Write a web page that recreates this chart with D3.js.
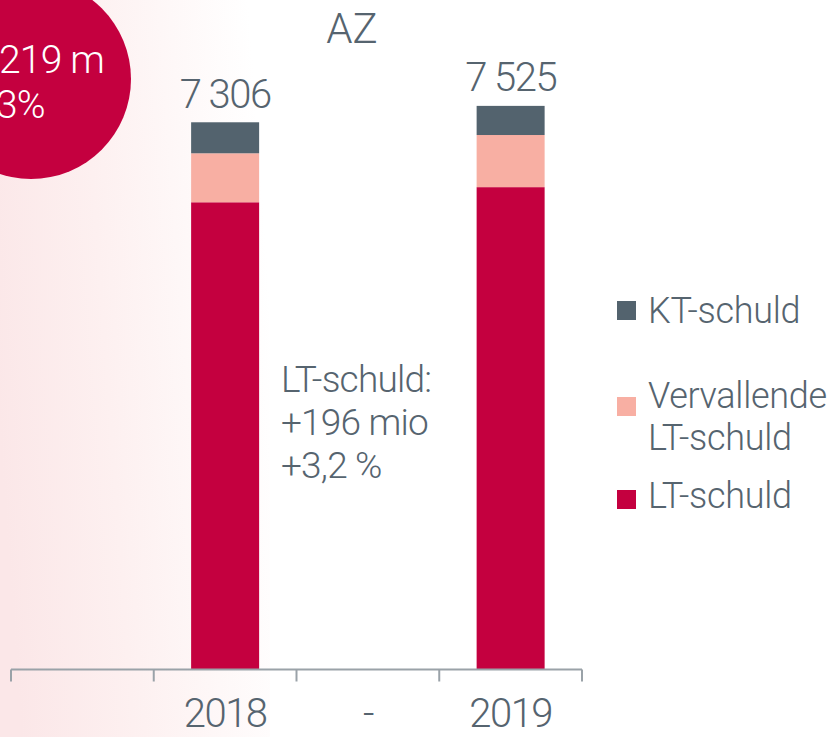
<!DOCTYPE html>
<html>
<head>
<meta charset="utf-8">
<script src="https://cdn.jsdelivr.net/npm/d3@7"></script>
<style>
  html, body { margin: 0; padding: 0; background: #fff; overflow: hidden; }
  svg { display: block; font-family: Roboto, "Open Sans", sans-serif; font-weight: 300; }
</style>
</head>
<body>
<div id="chart"></div>
<script>
// values (mio)
const categories = [" ", "2018", "-", "2019"];
const years = ["2018", "2019"];
const ltSchuld = [6238, 6440];
const vervallend = [654, 696];
const ktSchuld = [414, 389];
const totals = ["7 306", "7 525"];
const seriesKeys = ["LT", "Verv", "KT"];
const legendLabels = [["KT-schuld"], ["Vervallende", "LT-schuld"], ["LT-schuld"]];
const annotation = ["LT-schuld:", "+196 mio", "+3,2 %"];
const bubbleText = ["219 m", "3%"];

const width = 840, height = 737;
const textColor = "#56646f";

const color = d3.scaleOrdinal()
  .domain(seriesKeys)
  .range(["#c4003f", "#f8afa3", "#53636e"]);

const svg = d3.select("#chart").append("svg")
  .attr("width", width)
  .attr("height", height);

// pink wash on the left, fading out to the right
const defs = svg.append("defs");
const grad = defs.append("linearGradient")
  .attr("id", "wash")
  .attr("x1", 0).attr("y1", 0.6).attr("x2", 1).attr("y2", 0.4);
grad.append("stop").attr("offset", "0%").attr("stop-color", "#fbe7e8");
grad.append("stop").attr("offset", "40%").attr("stop-color", "#fdf0f0");
grad.append("stop").attr("offset", "100%").attr("stop-color", "#ffffff");
svg.append("rect")
  .attr("width", 270).attr("height", height)
  .attr("fill", "url(#wash)");

const x = d3.scaleBand()
  .domain(categories)
  .range([11, 582])
  .paddingInner(0);

const y = d3.scaleLinear()
  .domain([0, 8000])
  .range([669.5, 70.3]);

const barWidth = 68;

const table = years.map((yr, i) => ({ year: yr, LT: ltSchuld[i], Verv: vervallend[i], KT: ktSchuld[i] }));
const stacked = d3.stack().keys(seriesKeys)(table);

const bars = svg.append("g");
bars.selectAll("g")
  .data(stacked)
  .join("g")
  .attr("fill", d => color(d.key))
  .selectAll("rect")
  .data(d => d)
  .join("rect")
  .attr("x", d => x(d.data.year) + (x.bandwidth() - barWidth) / 2)
  .attr("width", barWidth)
  .attr("y", d => y(d[1]))
  .attr("height", d => y(d[0]) - y(d[1]));

// totals above bars
svg.append("g")
  .selectAll("text")
  .data(table)
  .join("text")
  .attr("x", d => x(d.year) + x.bandwidth() / 2)
  .attr("y", d => y(d.LT + d.Verv + d.KT) - 14.5)
  .attr("text-anchor", "middle")
  .attr("fill", textColor)
  .style("font-size", "40px")
  .style("letter-spacing", "-1.5px")
  .text((d, i) => totals[i]);

// axis
const axis = svg.append("g")
  .attr("stroke", "#9aa2a8")
  .attr("stroke-width", 2)
  .attr("fill", "none");
axis.append("line")
  .attr("x1", x.range()[0]).attr("x2", x.range()[1])
  .attr("y1", y(0)).attr("y2", y(0));
const tickPos = categories.map(c => x(c)).concat([x.range()[1]]);
axis.selectAll("line.tick")
  .data(tickPos)
  .join("line")
  .attr("class", "tick")
  .attr("x1", d => d).attr("x2", d => d)
  .attr("y1", y(0)).attr("y2", y(0) + 12);

svg.append("g")
  .selectAll("text")
  .data(categories)
  .join("text")
  .attr("x", d => x(d) + x.bandwidth() / 2)
  .attr("y", 727)
  .attr("text-anchor", "middle")
  .attr("fill", textColor)
  .style("font-size", "40px")
  .style("letter-spacing", "-1.5px")
  .text(d => d.trim());

// title
svg.append("text")
  .attr("x", 352).attr("y", 43)
  .attr("text-anchor", "middle")
  .attr("fill", textColor)
  .style("font-size", "42px")
  .text("AZ");

// annotation between bars
svg.append("g")
  .selectAll("text")
  .data(annotation)
  .join("text")
  .attr("x", 281)
  .attr("y", (d, i) => 392 + i * 43)
  .attr("fill", textColor)
  .style("font-size", "37px")
  .style("letter-spacing", "-0.8px")
  .text(d => d);

// bubble top-left
svg.append("circle")
  .attr("cx", 31).attr("cy", 79).attr("r", 100)
  .attr("fill", color("LT"));
svg.append("g")
  .selectAll("text")
  .data(bubbleText)
  .join("text")
  .attr("x", (d, i) => i ? -4 : -1)
  .attr("y", (d, i) => 73 + i * 45)
  .attr("fill", "#fff")
  .style("font-size", "39px")
  .style("letter-spacing", "-0.8px")
  .text(d => d);

// legend
const legendKeys = ["KT", "Verv", "LT"];
const legendSquareY = [301, 397, 490];
const legendTextY = [323, 408, 508];
const legend = svg.append("g");
legend.selectAll("rect")
  .data(legendKeys)
  .join("rect")
  .attr("x", 617)
  .attr("y", (d, i) => legendSquareY[i])
  .attr("width", 19).attr("height", 19)
  .attr("fill", d => color(d));
legend.selectAll("text")
  .data(legendLabels)
  .join("text")
  .attr("fill", textColor)
  .style("font-size", "36px")
  .style("letter-spacing", "-0.3px")
  .each(function (lines, i) {
    d3.select(this).selectAll("tspan")
      .data(lines)
      .join("tspan")
      .attr("x", 648)
      .attr("y", (l, j) => legendTextY[i] + j * 42)
      .text(l => l);
  });
</script>
</body>
</html>
